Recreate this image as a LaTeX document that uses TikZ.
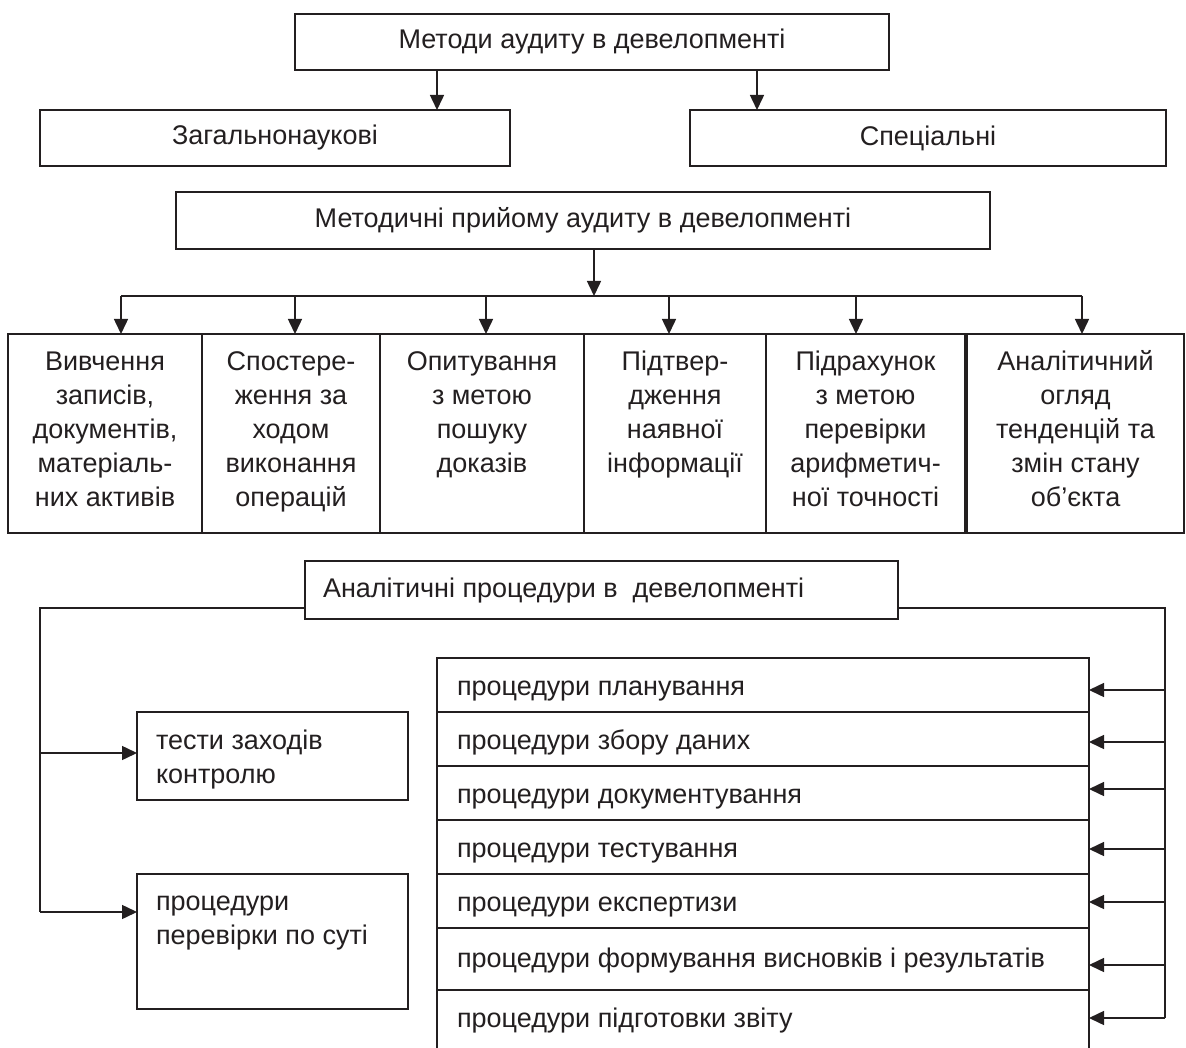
\documentclass[tikz,border=0pt]{standalone}
\usepackage{fontspec}
\setmainfont{Liberation Sans}
\usetikzlibrary{arrows.meta}
\definecolor{ink}{HTML}{231F20}
\begin{document}
\begin{tikzpicture}[x=1pt,y=-1pt,
  font=\fontsize{27}{34}\selectfont,
  box/.style={draw=ink, line width=1.5pt, rectangle, inner sep=0pt, outer sep=0pt, text=ink},
  lbl/.style={inner sep=0pt, outer sep=0pt, text=ink},
  conn/.style={draw=ink, line width=1.5pt},
  arr/.style={conn, -{Triangle[length=15pt,width=14pt]}}]
\useasboundingbox (0,0) rectangle (1186,1048);
\fill[white] (0,0) rectangle (1186,1048);
\clip (0,0) rectangle (1186,1048);

% top level
\node[box, minimum width=594pt, minimum height=56pt] (top) at (592,42) {Методи аудиту в девелопменті};
\node[box, minimum width=470pt, minimum height=56pt] (gen) at (275,138) {Загальнонаукові};
\node[box, minimum width=476pt, minimum height=56pt] (spec) at (928,138) {Спеціальні};
\coordinate (tg) at (437,70);
\coordinate (ts) at (757,70);
\draw[arr] (tg) -- (tg |- gen.north);
\draw[arr] (ts) -- (ts |- spec.north);

\node[box, minimum width=814pt, minimum height=57pt] (met) at (583,220.5) {Методичні прийому аудиту в девелопменті};

% row of methods
\node[box, minimum width=194pt, minimum height=199pt] (b1) at (105,433.5) {};
\node[box, minimum width=178pt, minimum height=199pt] (b2) at (291,433.5) {};
\node[box, minimum width=204pt, minimum height=199pt] (b3) at (482,433.5) {};
\node[box, minimum width=182pt, minimum height=199pt] (b4) at (675,433.5) {};
\node[box, minimum width=199pt, minimum height=199pt] (b5) at (865.5,433.5) {};
\node[box, minimum width=217pt, minimum height=199pt] (b6) at (1075.5,433.5) {};

% base anchor of a multi-line node = baseline of its last line
\node[lbl, anchor=base, align=center] (t1) at ([yshift=-172pt]b1.north) {Вивчення\\записів,\\документів,\\матеріаль-\\них активів};
\node[lbl, anchor=base, align=center] (t2) at ([yshift=-172pt]b2.north) {Спостере-\\ження за\\ходом\\виконання\\операцій};
\node[lbl, anchor=base, align=center] (t3) at ([yshift=-138pt]b3.north) {Опитування\\з метою\\пошуку\\доказів};
\node[lbl, anchor=base, align=center] (t4) at ([yshift=-138pt]b4.north) {Підтвер-\\дження\\наявної\\інформації};
\node[lbl, anchor=base, align=center] (t5) at ([yshift=-172pt]b5.north) {Підрахунок\\з метою\\перевірки\\арифметич-\\ної точності};
\node[lbl, anchor=base, align=center] (t6) at ([yshift=-172pt]b6.north) {Аналітичний\\огляд\\тенденцій та\\змін стану\\об’єкта};

% bus
\coordinate (bus) at (594,296);
\draw[arr] (met.south -| bus) -- (bus);
\coordinate (d1) at (121,296);
\coordinate (d2) at (295,296);
\coordinate (d3) at (486,296);
\coordinate (d4) at (669,296);
\coordinate (d5) at (856,296);
\coordinate (d6) at (1082,296);
\draw[conn] (d1) -- (d6);
\draw[arr] (d1) -- (d1 |- b1.north);
\draw[arr] (d2) -- (d2 |- b2.north);
\draw[arr] (d3) -- (d3 |- b3.north);
\draw[arr] (d4) -- (d4 |- b4.north);
\draw[arr] (d5) -- (d5 |- b5.north);
\draw[arr] (d6) -- (d6 |- b6.north);

% analytical procedures
\node[box, minimum width=593pt, minimum height=58pt] (an) at (601.5,590) {};
\node[lbl, anchor=base west] (ant) at (323,597) {Аналітичні процедури в\ \ девелопменті};

\node[box, minimum width=271pt, minimum height=88pt] (tc) at (272.5,756) {};
\node[lbl, anchor=base west, align=left] (tct) at (156,783) {тести заходів\\контролю};
\node[box, minimum width=271pt, minimum height=135pt] (sp) at (272.5,941.5) {};
\node[lbl, anchor=base west, align=left] (spt) at (156,944) {процедури\\перевірки по суті};

\coordinate (lt) at (40,608);
\coordinate (l1) at (40,753);
\coordinate (l2) at (40,912);
\draw[conn] (an.west |- lt) -- (lt) -- (l2);
\draw[arr] (l1) -- (l1 -| tc.west);
\draw[arr] (l2) -- (l2 -| sp.west);

% list of procedures
\node[box, minimum width=652pt, minimum height=54pt] (r1) at (763,685) {};
\node[box, minimum width=652pt, minimum height=54pt] (r2) at (763,739) {};
\node[box, minimum width=652pt, minimum height=54pt] (r3) at (763,793) {};
\node[box, minimum width=652pt, minimum height=54pt] (r4) at (763,847) {};
\node[box, minimum width=652pt, minimum height=54pt] (r5) at (763,901) {};
\node[box, minimum width=652pt, minimum height=62pt] (r6) at (763,959) {};
\node[box, minimum width=652pt, minimum height=66pt] (r7) at (763,1023) {};

\node[lbl, anchor=base west] (rt1) at ([xshift=20pt, yshift=-37pt]r1.north west) {процедури планування};
\node[lbl, anchor=base west] (rt2) at ([xshift=20pt, yshift=-37pt]r2.north west) {процедури збору даних};
\node[lbl, anchor=base west] (rt3) at ([xshift=20pt, yshift=-37pt]r3.north west) {процедури документування};
\node[lbl, anchor=base west] (rt4) at ([xshift=20pt, yshift=-37pt]r4.north west) {процедури тестування};
\node[lbl, anchor=base west] (rt5) at ([xshift=20pt, yshift=-37pt]r5.north west) {процедури експертизи};
\node[lbl, anchor=base west] (rt6) at ([xshift=20pt, yshift=-39pt]r6.north west) {процедури формування висновків і результатів};
\node[lbl, anchor=base west] (rt7) at ([xshift=20pt, yshift=-37pt]r7.north west) {процедури підготовки звіту};

\coordinate (rtop) at (1165,608);
\coordinate (a1) at (1165,690);
\coordinate (a2) at (1165,742);
\coordinate (a3) at (1165,789);
\coordinate (a4) at (1165,849);
\coordinate (a5) at (1165,902);
\coordinate (a6) at (1165,965);
\coordinate (a7) at (1165,1018);
\draw[conn] (an.east |- rtop) -- (rtop) -- (a7);
\draw[arr] (a1) -- (a1 -| r1.east);
\draw[arr] (a2) -- (a2 -| r2.east);
\draw[arr] (a3) -- (a3 -| r3.east);
\draw[arr] (a4) -- (a4 -| r4.east);
\draw[arr] (a5) -- (a5 -| r5.east);
\draw[arr] (a6) -- (a6 -| r6.east);
\draw[arr] (a7) -- (a7 -| r7.east);
\end{tikzpicture}
\end{document}
